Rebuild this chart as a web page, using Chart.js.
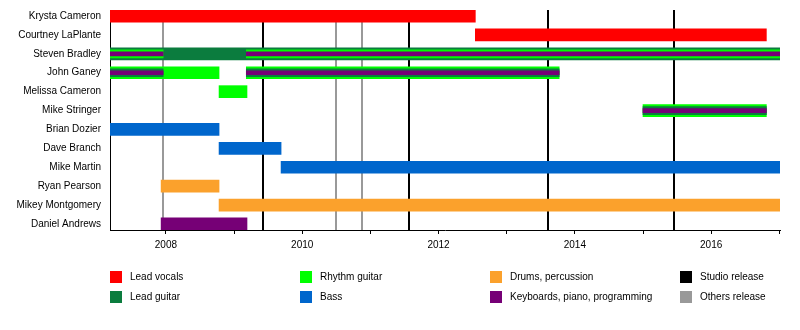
<!DOCTYPE html>
<html><head><meta charset="utf-8">
<script src="https://cdn.jsdelivr.net/npm/chart.js@4/dist/chart.umd.min.js"></script>
<style>
html,body{margin:0;padding:0;background:#fff;}
#wrap{position:relative;width:800px;height:330px;overflow:hidden;}
#legend{position:absolute;left:0;top:0;width:800px;height:330px;pointer-events:none;font-family:"Liberation Sans",Arial,sans-serif;font-size:10px;color:#000;}
.item{position:absolute;height:12px;line-height:12px;white-space:nowrap;}
.sw{position:absolute;left:0;top:0;width:12px;height:12px;}
.tx{position:absolute;left:20px;top:0;}
</style></head><body>
<div id="wrap"><canvas id="c" width="800" height="330"></canvas><div id="legend"></div></div>
<script>
// ---- data ----
const members = ['Krysta Cameron','Courtney LaPlante','Steven Bradley','John Ganey','Melissa Cameron','Mike Stringer','Brian Dozier','Dave Branch','Mike Martin','Ryan Pearson','Mikey Montgomery','Daniel Andrews'];
const roles = ['Lead vocals','Lead guitar','Rhythm guitar','Bass','Drums, percussion','Keyboards, piano, programming'];
const roleColors = ['#ff0000','#0b7c3e','#00ff00','#0066cc','#fba12c','#760076'];
const axisStart = 2007.18;
const axisEnd = 2017.01;
const yearTicks = [2008,2009,2010,2011,2012,2013,2014,2015,2016,2017];
const yearLabels = [2008,2010,2012,2014,2016];
// [member, role, start, end]
const primaryRoles = [
  ['Krysta Cameron','Lead vocals',2007.18,2012.54],
  ['Courtney LaPlante','Lead vocals',2012.54,2016.81],
  ['Steven Bradley','Lead guitar',2007.18,2017.01],
  ['John Ganey','Rhythm guitar',2007.18,2008.78],
  ['John Ganey','Rhythm guitar',2009.18,2013.77],
  ['Melissa Cameron','Rhythm guitar',2008.78,2009.19],
  ['Mike Stringer','Rhythm guitar',2015.0,2016.81],
  ['Brian Dozier','Bass',2007.18,2008.78],
  ['Dave Branch','Bass',2008.78,2009.69],
  ['Mike Martin','Bass',2009.69,2017.01],
  ['Ryan Pearson','Drums, percussion',2007.93,2008.78],
  ['Mikey Montgomery','Drums, percussion',2008.78,2017.01],
  ['Daniel Andrews','Keyboards, piano, programming',2007.93,2009.19]
];
const secondaryRoles = [
  ['Steven Bradley','Rhythm guitar',2007.18,2007.96],
  ['Steven Bradley','Rhythm guitar',2009.18,2017.01],
  ['John Ganey','Lead guitar',2007.18,2007.96],
  ['John Ganey','Lead guitar',2009.18,2013.77],
  ['Mike Stringer','Lead guitar',2015.0,2016.81]
];
const tertiaryRoles = [
  ['Steven Bradley','Keyboards, piano, programming',2007.18,2007.96],
  ['Steven Bradley','Keyboards, piano, programming',2009.18,2017.01],
  ['John Ganey','Keyboards, piano, programming',2007.18,2007.96],
  ['John Ganey','Keyboards, piano, programming',2009.18,2013.77],
  ['Mike Stringer','Keyboards, piano, programming',2015.0,2016.81]
];
const studioReleases = [2009.42, 2011.57, 2013.61, 2015.46];
const otherReleases = [2007.96, 2010.49, 2010.87];
const releaseTypes = ['Studio release','Others release'];
const releaseColors = ['#000000','#999999'];

// ---- build ----
const layers = [primaryRoles, secondaryRoles, tertiaryRoles];
const thickness = [12, 8, 4];
const datasets = [];
layers.forEach((rows, li) => {
  roles.forEach((role, ri) => {
    const data = rows.filter(r => r[1] === role).map(r => ({x: [r[2], r[3]], y: members.indexOf(r[0])}));
    if (data.length) datasets.push({label: role, data, backgroundColor: roleColors[ri], barThickness: thickness[li], grouped: false, order: 3 - li, borderWidth: 0, borderSkipped: false});
  });
});

const releaseLines = {
  id: 'releaseLines',
  beforeDatasetsDraw(chart) {
    const {ctx, chartArea, scales} = chart;
    const x = scales.x;
    ctx.save();
    const draw = (vals, color) => {
      ctx.strokeStyle = color; ctx.lineWidth = 2;
      vals.forEach(v => {
        const px = Math.round(x.getPixelForValue(v));
        ctx.beginPath(); ctx.moveTo(px, chartArea.top); ctx.lineTo(px, chartArea.bottom); ctx.stroke();
      });
    };
    draw(otherReleases, releaseColors[1]);
    draw(studioReleases, releaseColors[0]);
    ctx.restore();
  }
};

Chart.defaults.font.family = '"Liberation Sans", Arial, sans-serif';
Chart.defaults.font.size = 10;
Chart.defaults.color = '#000';

new Chart(document.getElementById('c'), {
  type: 'bar',
  data: {datasets},
  plugins: [releaseLines],
  options: {
    indexAxis: 'y',
    responsive: false,
    animation: false,
    devicePixelRatio: 1,
    events: [],
    layout: {padding: {left: 0, right: 20, top: 10, bottom: 80}},
    plugins: {legend: {display: false}, tooltip: {enabled: false}},
    scales: {
      x: {
        type: 'linear', min: axisStart, max: axisEnd, offset: false,
        afterBuildTicks: s => { s.ticks = yearTicks.map(v => ({value: v})); },
        afterFit: s => { s.height = 20; s.paddingLeft = 0; s.paddingRight = 0; },
        grid: {drawOnChartArea: false, drawTicks: true, tickLength: 4, color: '#000', lineWidth: 1, offset: false},
        border: {display: true, color: '#000', width: 1},
        ticks: {callback: v => yearLabels.includes(v) ? String(v) : '', padding: 5, color: '#000', maxRotation: 0, autoSkip: false, font: {size: 10}}
      },
      y: {
        type: 'linear', reverse: true, min: -0.32, max: 11.32, offset: false,
        afterBuildTicks: s => { s.ticks = members.map((_, i) => ({value: i})); },
        afterFit: s => { s.width = 110; s.paddingTop = 0; s.paddingBottom = 0; },
        grid: {display: false, drawTicks: false, offset: false},
        border: {display: true, color: '#000', width: 1},
        ticks: {callback: v => members[v], padding: 9, color: '#000', autoSkip: false, font: {size: 10}}
      }
    }
  }
});

// ---- legend ----
const legend = document.getElementById('legend');
const entries = roles.map((r, i) => [r, roleColors[i]]).concat(releaseTypes.map((r, i) => [r, releaseColors[i]]));
entries.forEach(([name, color], i) => {
  const col = Math.floor(i / 2), row = i % 2;
  const d = document.createElement('div');
  d.className = 'item';
  d.style.left = (110 + col * 190) + 'px';
  d.style.top = (271 + row * 20) + 'px';
  d.innerHTML = '<span class="sw" style="background:' + color + '"></span><span class="tx"></span>';
  d.querySelector('.tx').textContent = name;
  legend.appendChild(d);
});
</script>
</body></html>
